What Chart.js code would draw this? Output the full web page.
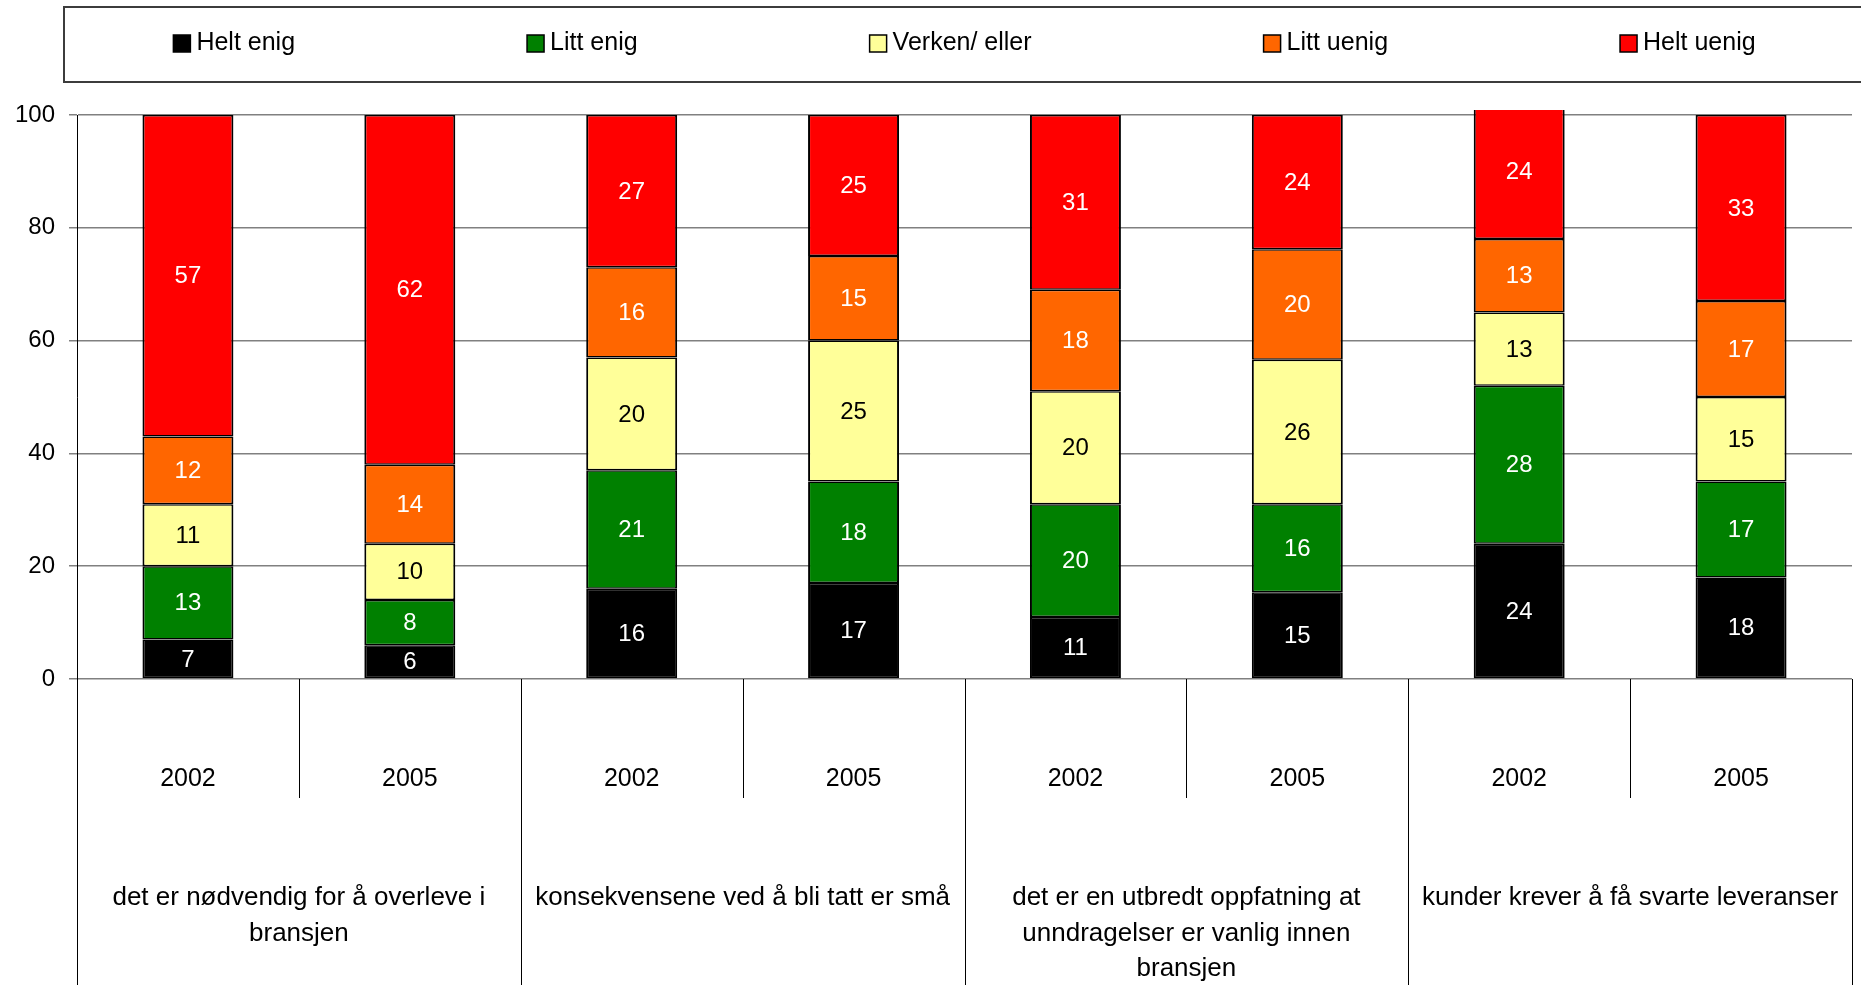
<!DOCTYPE html>
<html>
<head>
<meta charset="utf-8">
<title>Holdninger 2002 og 2005</title>
<script src="https://cdn.jsdelivr.net/npm/chart.js@4.4.0/dist/chart.umd.min.js"></script>
<style>
  html, body { margin: 0; padding: 0; background: #ffffff; }
  #wrap { width: 1861px; height: 985px; }
</style>
</head>
<body>
<div id="wrap"><canvas id="chart"></canvas></div>
<script>
// Kategorier: år innenfor hver påstand
const years = ['2002', '2005', '2002', '2005', '2002', '2005', '2002', '2005'];
const statements = [
  ['det er nødvendig for å overleve i', 'bransjen'],
  ['konsekvensene ved å bli tatt er små'],
  ['det er en utbredt oppfatning at', 'unndragelser er vanlig innen', 'bransjen'],
  ['kunder krever å få svarte leveranser'],
];

// Serier (prosent), lest av figuren
const seriesNames = ['Helt enig', 'Litt enig', 'Verken/ eller', 'Litt uenig', 'Helt uenig'];
const heltEnig  = [7, 6, 16, 17, 11, 15.4, 24, 18];
const littEnig  = [13, 8, 21, 18, 20, 15.6, 28, 17];
const verken    = [11, 10, 20, 25, 20, 25.6, 13, 15];
const littUenig = [12, 14, 16, 15, 18, 19.6, 13, 17];
const heltUenig = [57, 62, 27, 25, 31, 23.8, 24, 33];

const seriesColors = ['#000000', '#008000', '#FFFF99', '#FF6600', '#FF0000'];
const valueColors  = ['#ffffff', '#ffffff', '#000000', '#ffffff', '#ffffff'];

// Tick-verdier på y-aksen
const yTicks = [0, 20, 40, 60, 80, 100];

const FONT = '"Liberation Sans", Arial, Helvetica, sans-serif';
Chart.defaults.font.family = FONT;
Chart.defaults.color = '#000000';

const seriesData = [heltEnig, littEnig, verken, littUenig, heltUenig];

// Tall midt i hvert segment
const segmentLabels = {
  id: 'segmentLabels',
  afterDatasetsDraw(chart) {
    const ctx = chart.ctx;
    ctx.save();
    ctx.font = '24px ' + FONT;
    ctx.textAlign = 'center';
    ctx.textBaseline = 'middle';
    chart.data.datasets.forEach((ds, di) => {
      const meta = chart.getDatasetMeta(di);
      meta.data.forEach((bar, i) => {
        const p = bar.getProps(['x', 'y', 'base'], true);
        ctx.fillStyle = valueColors[di];
        ctx.fillText(String(Math.round(ds.data[i])), p.x, (p.y + p.base) / 2 + 1);
      });
    });
    ctx.restore();
  }
};

// Skillelinjer mellom år og mellom påstander under x-aksen
const axisDividers = {
  id: 'axisDividers',
  afterDraw(chart) {
    const xs = chart.scales.x;
    const xg = chart.scales.x2;
    const n = xs.ticks.length;
    const step = xs.getPixelForTick(1) - xs.getPixelForTick(0);
    const perGroup = years.length / statements.length;
    const ctx = chart.ctx;
    ctx.save();
    ctx.strokeStyle = '#000000';
    ctx.lineWidth = 1;
    for (let i = 0; i <= n; i++) {
      const px = Math.round(xs.getPixelForTick(Math.min(i, n - 1)) + (i < n ? -step / 2 : step / 2)) + 0.5;
      const bottom = i % perGroup === 0 ? xg.bottom : xs.bottom;
      ctx.beginPath();
      ctx.moveTo(px, xs.top);
      ctx.lineTo(px, bottom);
      ctx.stroke();
    }
    ctx.restore();
  }
};

// Forklaring i ramme øverst
const boxLegend = {
  id: 'boxLegend',
  afterDraw(chart) {
    const ctx = chart.ctx;
    const area = chart.chartArea;
    ctx.save();
    ctx.strokeStyle = '#3c3c3c';
    ctx.lineWidth = 2;
    ctx.strokeRect(64, 7, chart.width, 75);

    ctx.font = '25px ' + FONT;
    ctx.textBaseline = 'middle';
    const marker = 17, gapText = 6, gapItem = 232;
    const widths = chart.data.datasets.map(ds => marker + gapText + ctx.measureText(ds.label).width);
    const total = widths.reduce((a, b) => a + b, 0) + gapItem * (widths.length - 1);
    let x = (area.left + area.right) / 2 - total / 2;
    chart.data.datasets.forEach((ds, i) => {
      ctx.fillStyle = ds.backgroundColor;
      ctx.fillRect(x, 35, marker, marker);
      ctx.strokeStyle = '#000000';
      ctx.lineWidth = 1.5;
      ctx.strokeRect(x, 35, marker, marker);
      ctx.fillStyle = '#000000';
      ctx.fillText(ds.label, x + marker + gapText, 43);
      x += widths[i] + gapItem;
    });
    ctx.restore();
  }
};

// Fast høyde og ingen ekstra sidepadding for x-aksene
function fixHeight(h) {
  return s => {
    s.height = h;
    s.paddingLeft = 0;
    s.paddingRight = 0;
  };
}

new Chart(document.getElementById('chart'), {
  type: 'bar',
  data: {
    labels: years,
    datasets: seriesNames.map((name, i) => ({
      label: name,
      data: seriesData[i],
      xAxisID: 'x',
      yAxisID: 'y',
      backgroundColor: seriesColors[i],
    })),
  },
  options: {
    responsive: true,
    maintainAspectRatio: false,
    animation: false,
    layout: { padding: { top: 115, right: 9, left: 0, bottom: 0 } },
    datasets: {
      bar: {
        categoryPercentage: 1,
        barPercentage: 0.41,
        borderColor: '#000000',
        borderWidth: { top: 1.5, bottom: 1.5, left: 2, right: 2 },
        borderSkipped: false,
        clip: { top: 5, left: 0, right: 0, bottom: 0 },
      },
    },
    plugins: {
      legend: { display: false },
      tooltip: { enabled: false },
    },
    scales: {
      x: {
        type: 'category',
        position: 'bottom',
        stacked: true,
        offset: true,
        weight: 0,
        grid: { display: false },
        border: { display: false },
        ticks: { font: { size: 25 }, padding: 77, maxRotation: 0, autoSkip: false },
        afterFit: fixHeight(119),
      },
      x2: {
        type: 'category',
        position: 'bottom',
        labels: statements,
        offset: true,
        weight: 1,
        grid: { display: false },
        border: { display: false },
        ticks: { font: { size: 26, lineHeight: 1.37 }, padding: 74, maxRotation: 0, autoSkip: false },
        afterFit: fixHeight(187),
      },
      y: {
        stacked: true,
        min: 0,
        max: 100,
        afterBuildTicks: s => { s.ticks = yTicks.map(v => ({ value: v })); },
        grid: { color: '#808080', lineWidth: 1.5, tickLength: 8, tickColor: '#808080' },
        border: { color: '#000000', width: 1 },
        ticks: { font: { size: 24 }, padding: 14 },
        afterFit: s => { s.width = 77; },
      },
    },
  },
  plugins: [segmentLabels, axisDividers, boxLegend],
});
</script>
</body>
</html>
